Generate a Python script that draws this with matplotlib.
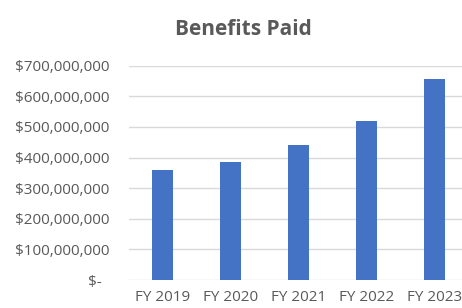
import matplotlib
matplotlib.use('Agg')
import matplotlib.pyplot as plt

years = ['FY 2019', 'FY 2020', 'FY 2021', 'FY 2022', 'FY 2023']
benefits = [359e6, 385e6, 441e6, 520e6, 655e6]
yticks = [0, 100e6, 200e6, 300e6, 400e6, 500e6, 600e6, 700e6]
ylabels = ['$-  ', '$100,000,000', '$200,000,000', '$300,000,000',
           '$400,000,000', '$500,000,000', '$600,000,000', '$700,000,000']

plt.rcParams['font.family'] = ['Open Sans', 'DejaVu Sans']
grey = '#595959'

fig = plt.figure(figsize=(4.62, 3.08), dpi=100)
ax = fig.add_axes([0.279, 0.0909, 0.736, 0.6958])

x = range(len(years))
ax.bar(x, benefits, width=0.31, color='#4472C4', zorder=3)
ax.set_xlim(-0.5, 4.5)
ax.set_ylim(0, 700e6)
ax.set_xticks(list(x))
ax.set_xticklabels(years, fontsize=11, color=grey)
ax.set_yticks(yticks)
ax.set_yticklabels(ylabels, fontsize=11, color=grey)
ax.tick_params(length=0, pad=14)
ax.tick_params(axis='x', pad=7)
ax.grid(axis='y', color='#d9d9d9', linewidth=1, zorder=0)
for s in ax.spines.values():
    s.set_visible(False)

fig.text(0.527, 0.905, 'Benefits Paid', ha='center', va='center',
         fontsize=15, fontweight='bold', color=grey)

fig.savefig('out.png', dpi=100)
